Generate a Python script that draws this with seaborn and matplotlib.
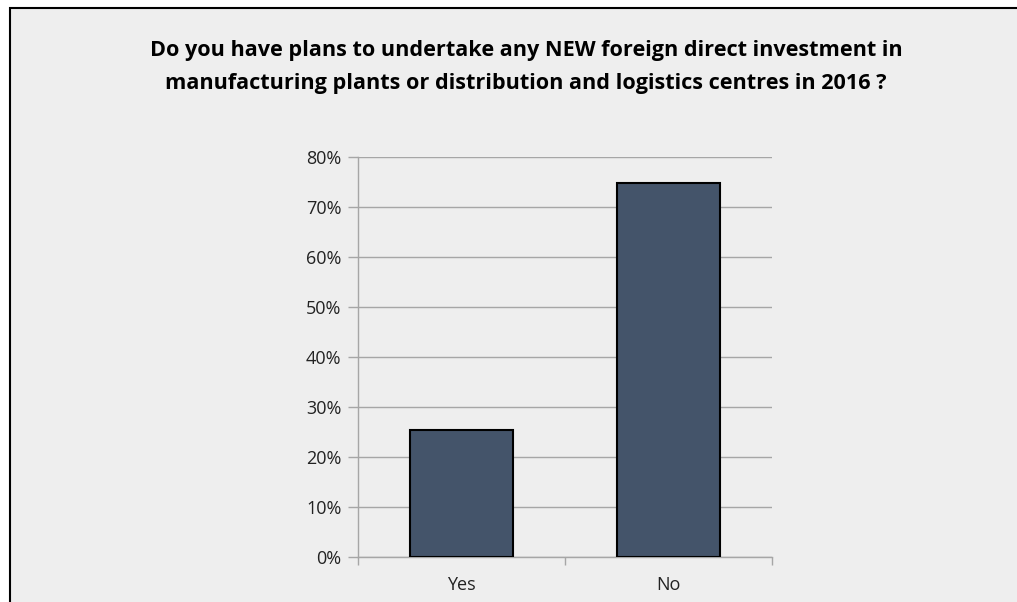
import matplotlib
matplotlib.use("Agg")
import matplotlib.pyplot as plt
from matplotlib.patches import Rectangle
from matplotlib.ticker import PercentFormatter, FixedLocator
import seaborn as sns
import pandas as pd

answers = ["Yes", "No"]
shares = [25.3, 74.7]
y_ticks = [0, 10, 20, 30, 40, 50, 60, 70, 80]

sns.set_theme(style="white")
plt.rcParams["font.family"] = ["Open Sans", "DejaVu Sans"]

W, H = 1017, 602
fig = plt.figure(figsize=(W / 100, H / 100), dpi=100, facecolor="white")

# chart area panel with a dark outline, running off the right and bottom edges
fig.patches.append(Rectangle((9.5 / W, -0.1), 1.2, 1.1 - 7.5 / H, transform=fig.transFigure,
                             facecolor="#eeeeee", edgecolor="black", linewidth=1.5, zorder=-5))

ax = fig.add_axes([358 / W, 1 - 556.5 / H, (772 - 358) / W, (556.5 - 156.5) / H])
ax.set_facecolor("#eeeeee")

df = pd.DataFrame({"answer": answers, "share": shares})
sns.barplot(data=df, x="answer", y="share", order=answers, color="#44546A",
            edgecolor="black", linewidth=1.5, width=0.5, ax=ax, zorder=3, saturation=1)

ax.set_ylim(0, 80)
ax.set_xlim(-0.5, 1.5)
ax.yaxis.set_major_locator(FixedLocator(y_ticks))
ax.yaxis.set_major_formatter(PercentFormatter(decimals=0))
ax.grid(axis="y", color="#a6a6a6", linewidth=1.0, zorder=0)
ax.set_axisbelow(True)

for side in ["top", "right"]:
    ax.spines[side].set_visible(False)
for side in ["left", "bottom"]:
    ax.spines[side].set_color("#a6a6a6")
    ax.spines[side].set_linewidth(1.0)

ax.tick_params(axis="y", which="major", length=7, width=1, color="#a6a6a6",
               labelsize=13, labelcolor="#222222", pad=5, direction="out", left=True)
ax.tick_params(axis="x", which="major", length=0, labelsize=13, labelcolor="#222222", pad=14)
ax.set_xticks([0, 1], answers)
ax.set_xticks([-0.5, 0.5, 1.5], minor=True)
ax.tick_params(axis="x", which="minor", length=6, width=1, color="#a6a6a6", direction="out", bottom=True)
ax.set_xlabel("")
ax.set_ylabel("")

fig.text(526 / W, 1 - 67 / H,
         "Do you have plans to undertake any NEW foreign direct investment in\n"
         "manufacturing plants or distribution and logistics centres in 2016 ?",
         ha="center", va="center", fontsize=15.6, fontweight="bold", color="black",
         linespacing=1.8)

fig.savefig("out.png", dpi=100, facecolor="white")
